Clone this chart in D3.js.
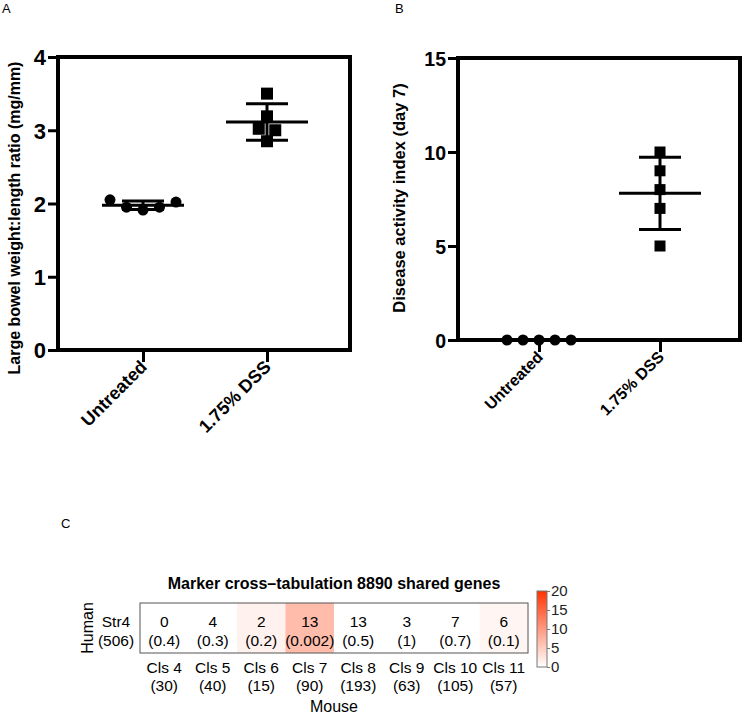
<!DOCTYPE html>
<html><head><meta charset="utf-8">
<script src="https://cdn.jsdelivr.net/npm/d3@7"></script>
<style>body{margin:0;background:#fff}svg{display:block;font-family:"Liberation Sans",Arial,sans-serif}</style>
</head><body><svg id="c" width="744" height="717"></svg>
<script>
// ---------- data ----------
const groups = ["Untreated", "1.75% DSS"];
const ratioUntreated = [2.05, 1.95, 1.91, 1.95, 2.02];
const ratioDSS = [3.50, 3.19, 3.02, 3.00, 2.85];
const daiUntreated = [0, 0, 0, 0, 0];
const daiDSS = [10, 9, 8, 7, 5];
const ratioTicks = [0, 1, 2, 3, 4];
const daiTicks = [0, 5, 10, 15];

const mouseClusters = ["Cls 4", "Cls 5", "Cls 6", "Cls 7", "Cls 8", "Cls 9", "Cls 10", "Cls 11"];
const mouseSizes = [30, 40, 15, 90, 193, 63, 105, 57];
const sharedCounts = [0, 4, 2, 13, 13, 3, 7, 6];
const pValues = ["0.4", "0.3", "0.2", "0.002", "0.5", "1", "0.7", "0.1"];
const heatValues = [0, 0, 1.4, 6.6, 0, 0, 0, 1.0];
const humanCluster = "Str4";
const humanSize = 506;
const legendTicks = [0, 5, 10, 15, 20];

const svg = d3.select("#c");

function mean(a){return d3.mean(a);}
function sd(a){return a.length>1 ? d3.deviation(a) : 0;}

// row-based column scatter offsets (GraphPad-like)
function scatterOffsets(vals, y, rowPx, spacing){
  const idx = vals.map((v,i)=>i).sort((a,b)=>vals[b]-vals[a]);
  const rows = [];
  idx.forEach(i=>{
    const last = rows[rows.length-1];
    if(last && Math.abs(y(vals[i]) - y(vals[last[0]])) <= rowPx) last.push(i);
    else rows.push([i]);
  });
  const off = new Array(vals.length).fill(0);
  rows.forEach(r=>{
    r.sort((a,b)=>a-b);
    r.forEach((i,k)=>{ off[i] = (k-(r.length-1)/2)*spacing; });
  });
  return off;
}

function dotPanel(cfg){
  const g = svg.append("g");
  const y = d3.scaleLinear().domain(cfg.domain).range([cfg.bottom, cfg.top]);
  const x = d3.scalePoint().domain(groups).range([cfg.x0, cfg.x1]);
  g.append("rect").attr("x",cfg.left).attr("y",cfg.top)
    .attr("width",cfg.right-cfg.left).attr("height",cfg.bottom-cfg.top)
    .attr("fill","none").attr("stroke","#000").attr("stroke-width",4);
  const ya = g.append("g").attr("transform",`translate(${cfg.left-2},0)`)
    .call(d3.axisLeft(y).tickValues(cfg.ticks).tickSize(8).tickPadding(2).tickFormat(d3.format("d")));
  ya.select(".domain").remove();
  ya.selectAll("line").attr("stroke","#000").attr("stroke-width",3);
  ya.selectAll("text").attr("font-size",cfg.tickFont).attr("font-weight","bold").attr("fill","#000")
    .attr("font-family","'Liberation Sans',Arial,sans-serif").attr("dy","0.36em");
  const xa = g.append("g").attr("transform",`translate(0,${cfg.bottom+2})`)
    .call(d3.axisBottom(x).tickSize(10).tickFormat(""));
  xa.select(".domain").remove();
  xa.selectAll("line").attr("stroke","#000").attr("stroke-width",3);
  g.selectAll(".xl").data(groups).enter().append("text")
    .attr("transform",d=>`translate(${x(d)+5},${cfg.bottom+18}) rotate(-45)`)
    .attr("text-anchor","end").attr("font-size",cfg.xFont).attr("font-weight","bold").text(d=>d);
  g.append("text").attr("transform",`translate(${cfg.ylabX},${cfg.ylabY}) rotate(-90)`)
    .attr("text-anchor","middle").attr("font-size",cfg.ylabFont).attr("font-weight","bold").text(cfg.ylab);
  cfg.series.forEach((vals,gi)=>{
    const cx = x(groups[gi]);
    const m = mean(vals), s = sd(vals);
    const off = scatterOffsets(vals, y, 11.5, cfg.spacing);
    if(gi===0){
      g.selectAll(null).data(vals).enter().append("circle")
        .attr("cx",(d,i)=>cx+off[i]).attr("cy",d=>y(d)).attr("r",cfg.r).attr("fill","#000");
    } else {
      g.selectAll(null).data(vals).enter().append("rect")
        .attr("x",(d,i)=>cx+off[i]-cfg.sq/2).attr("y",d=>y(d)-cfg.sq/2)
        .attr("width",cfg.sq).attr("height",cfg.sq).attr("fill","#000");
    }
    const ln = (x1,y1,x2,y2)=>g.append("line").attr("x1",x1).attr("y1",y1).attr("x2",x2).attr("y2",y2)
      .attr("stroke","#000").attr("stroke-width",3);
    ln(cx, y(m+s), cx, y(m-s));
    ln(cx-41, y(m), cx+41, y(m));
    ln(cx-21, y(m+s), cx+21, y(m+s));
    ln(cx-21, y(m-s), cx+21, y(m-s));
  });
}

dotPanel({left:58,right:350,top:57,bottom:350,x0:143,x1:267,domain:[0,4],ticks:ratioTicks,
  tickFont:22,xFont:18,ylab:"Large bowel weight:length ratio (mg/mm)",ylabX:20,ylabY:218,ylabFont:16,
  series:[ratioUntreated,ratioDSS],r:5.5,sq:12,spacing:16.5});
dotPanel({left:458,right:740,top:58,bottom:340,x0:539,x1:660,domain:[0,15],ticks:daiTicks,
  tickFont:19.5,xFont:16,ylab:"Disease activity index (day 7)",ylabX:405,ylabY:198,ylabFont:16.5,
  series:[daiUntreated,daiDSS],r:5.5,sq:11,spacing:16});

svg.append("text").attr("x",2).attr("y",13).attr("font-size",13).text("A");
svg.append("text").attr("x",395).attr("y",13).attr("font-size",13).text("B");
svg.append("text").attr("x",61).attr("y",528).attr("font-size",13).text("C");

// ---------- panel C heatmap ----------
const fs = 15.5;
const hx = d3.scaleBand().domain(mouseClusters).range([140,528]);
const hTop = 603, hBot = 653;
const color = d3.scaleLinear().domain([0,20]).range(["#ffffff","#ff3300"]);
const hc = svg.append("g");
hc.selectAll(null).data(mouseClusters).enter().append("rect")
  .attr("x",d=>hx(d)).attr("y",hTop).attr("width",hx.bandwidth()+0.5).attr("height",hBot-hTop)
  .attr("fill",(d,i)=>color(heatValues[i]));
hc.append("rect").attr("x",140).attr("y",hTop).attr("width",388).attr("height",hBot-hTop)
  .attr("fill","none").attr("stroke","#555").attr("stroke-width",1);
const colText = (yy, fn)=>hc.selectAll(null).data(mouseClusters).enter().append("text")
  .attr("x",d=>hx(d)+hx.bandwidth()/2).attr("y",yy).attr("text-anchor","middle").attr("font-size",fs).text(fn);
colText(626.5,(d,i)=>sharedCounts[i]);
colText(645.5,(d,i)=>"("+pValues[i]+")");
colText(672.5,d=>d);
colText(691,(d,i)=>"("+mouseSizes[i]+")");
hc.append("text").attr("x",116).attr("y",626.5).attr("text-anchor","middle").attr("font-size",fs).text(humanCluster);
hc.append("text").attr("x",116).attr("y",645.5).attr("text-anchor","middle").attr("font-size",fs).text("("+humanSize+")");
hc.append("text").attr("transform","translate(93,628) rotate(-90)").attr("text-anchor","middle").attr("font-size",16).text("Human");
hc.append("text").attr("x",334).attr("y",712).attr("text-anchor","middle").attr("font-size",16).text("Mouse");
hc.append("text").attr("x",334).attr("y",589).attr("text-anchor","middle").attr("font-size",16).attr("font-weight","bold")
  .text("Marker cross\u2013tabulation 8890 shared genes");

// colour legend
const defs = svg.append("defs");
const lg = defs.append("linearGradient").attr("id","lg").attr("x1",0).attr("y1",1).attr("x2",0).attr("y2",0);
legendTicks.forEach(t=>lg.append("stop").attr("offset",t/20).attr("stop-color",color(t)));
const ly = d3.scaleLinear().domain([0,20]).range([667,591]);
svg.append("rect").attr("x",537).attr("y",591).attr("width",10).attr("height",76).attr("fill","url(#lg)")
  .attr("stroke","#777").attr("stroke-width",1);
const la = svg.append("g").attr("transform","translate(547,0)")
  .call(d3.axisRight(ly).tickValues(legendTicks).tickSize(3).tickPadding(1));
la.select(".domain").remove();
la.selectAll("line").attr("stroke","#777");
la.selectAll("text").attr("font-size",15).attr("fill","#222").attr("font-family","'Liberation Sans',Arial,sans-serif");
</script></body></html>
